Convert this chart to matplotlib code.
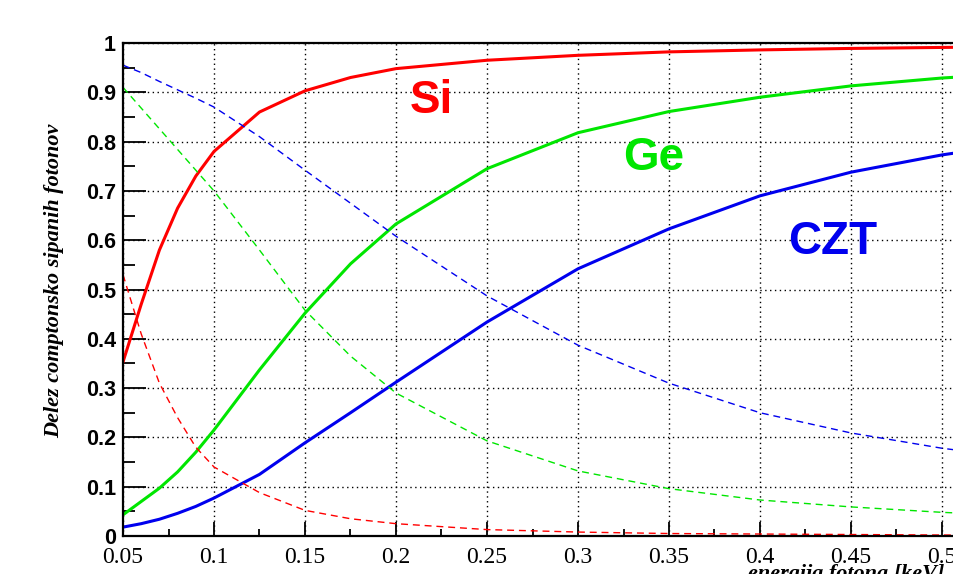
import matplotlib
matplotlib.use("Agg")
import matplotlib.pyplot as plt
from matplotlib.ticker import MultipleLocator, FixedLocator, FixedFormatter

energy = [0.05, 0.06, 0.07, 0.08, 0.09, 0.10, 0.125, 0.15, 0.175, 0.20,
          0.25, 0.30, 0.35, 0.40, 0.45, 0.50, 0.55]

si_compton = [0.353, 0.47, 0.58, 0.665, 0.73, 0.78, 0.86, 0.903, 0.93, 0.948,
              0.965, 0.975, 0.982, 0.986, 0.989, 0.991, 0.993]
si_photo = [0.53, 0.41, 0.31, 0.24, 0.18, 0.14, 0.088, 0.052, 0.035, 0.025,
            0.013, 0.008, 0.005, 0.004, 0.003, 0.002, 0.002]
ge_compton = [0.043, 0.07, 0.097, 0.13, 0.17, 0.215, 0.337, 0.452, 0.552, 0.633,
              0.745, 0.818, 0.861, 0.89, 0.913, 0.929, 0.94]
ge_photo = [0.91, 0.868, 0.826, 0.784, 0.742, 0.70, 0.58, 0.458, 0.365, 0.29,
            0.193, 0.132, 0.096, 0.073, 0.059, 0.048, 0.04]
czt_compton = [0.018, 0.025, 0.034, 0.046, 0.06, 0.077, 0.125, 0.189, 0.25, 0.312,
               0.434, 0.542, 0.623, 0.69, 0.738, 0.773, 0.80]
czt_photo = [0.955, 0.94, 0.922, 0.905, 0.888, 0.87, 0.81, 0.742, 0.675, 0.608,
             0.487, 0.387, 0.31, 0.25, 0.209, 0.178, 0.155]

x_ticks = [0.05, 0.1, 0.15, 0.2, 0.25, 0.3, 0.35, 0.4, 0.45, 0.5, 0.55]
x_ticklabels = ["0.05", "0.1", "0.15", "0.2", "0.25", "0.3", "0.35", "0.4", "0.45", "0.5", "0.55"]
y_ticks = [0, 0.1, 0.2, 0.3, 0.4, 0.5, 0.6, 0.7, 0.8, 0.9, 1.0]
y_ticklabels = ["0", "0.1", "0.2", "0.3", "0.4", "0.5", "0.6", "0.7", "0.8", "0.9", "1"]

W, H = 954, 574
fig = plt.figure(figsize=(W / 100, H / 100), dpi=100)
x0_px, x1_px = 123, 123 + (0.55 - 0.05) * 1820
y0_px, y1_px = 536, 43
ax = fig.add_axes([x0_px / W, (H - y0_px) / H, (x1_px - x0_px) / W, (y0_px - y1_px) / H])

red, green, blue = "#ff0000", "#00e600", "#0000ee"
ax.plot(energy, si_compton, color=red, lw=2.2)
ax.plot(energy, ge_compton, color=green, lw=2.2)
ax.plot(energy, czt_compton, color=blue, lw=2.2)
ax.plot(energy, si_photo, color=red, lw=1.0, dashes=(5, 3.5))
ax.plot(energy, ge_photo, color=green, lw=1.0, dashes=(5, 3.5))
ax.plot(energy, czt_photo, color=blue, lw=1.0, dashes=(5, 3.5))

ax.set_xlim(0.05, 0.55)
ax.set_ylim(0, 1)

ax.xaxis.set_major_locator(FixedLocator(x_ticks))
ax.xaxis.set_major_formatter(FixedFormatter(x_ticklabels))
ax.xaxis.set_minor_locator(MultipleLocator(0.025))
ax.yaxis.set_major_locator(FixedLocator(y_ticks))
ax.yaxis.set_major_formatter(FixedFormatter(y_ticklabels))
ax.yaxis.set_minor_locator(MultipleLocator(0.05))

ax.tick_params(axis="x", which="major", direction="in", length=10, width=1.3, pad=8,
               top=False, labelsize=17)
ax.tick_params(axis="x", which="minor", direction="in", length=5, width=1.3, top=False)
ax.tick_params(axis="y", which="major", direction="in", length=16.5, width=1.3, pad=5,
               right=False, labelsize=15.5)
ax.tick_params(axis="y", which="minor", direction="in", length=8.5, width=1.3, right=False)

for lab in ax.get_xticklabels():
    lab.set_fontfamily("Liberation Serif")
for lab in ax.get_yticklabels():
    lab.set_fontfamily("Liberation Sans")
    lab.set_fontweight("bold")

for s in ax.spines.values():
    s.set_linewidth(1.6)

ax.grid(True, which="major", color="black", linestyle=(0, (1, 2.5)), linewidth=1.0)
ax.set_axisbelow(True)

ax.text(0.2077, 0.858, "Si", color=red, fontsize=33, fontweight="bold",
        family="Liberation Sans", ha="left", va="baseline")
ax.text(0.3247, 0.742, "Ge", color=green, fontsize=33, fontweight="bold",
        family="Liberation Sans", ha="left", va="baseline")
ax.text(0.4154, 0.572, "CZT", color=blue, fontsize=33, fontweight="bold",
        family="Liberation Sans", ha="left", va="baseline")

fig.text(54 / W, 1 - 281 / H, "Delez comptonsko sipanih fotonov", rotation=90,
         family="Liberation Serif", fontstyle="italic", fontweight="bold",
         fontsize=16, ha="center", va="center")
fig.text(944 / W, (H - 579) / H, "energija fotona [keV]",
         family="Liberation Serif", fontstyle="italic", fontweight="bold",
         fontsize=16, ha="right", va="baseline")

fig.savefig("out.png", dpi=100)
